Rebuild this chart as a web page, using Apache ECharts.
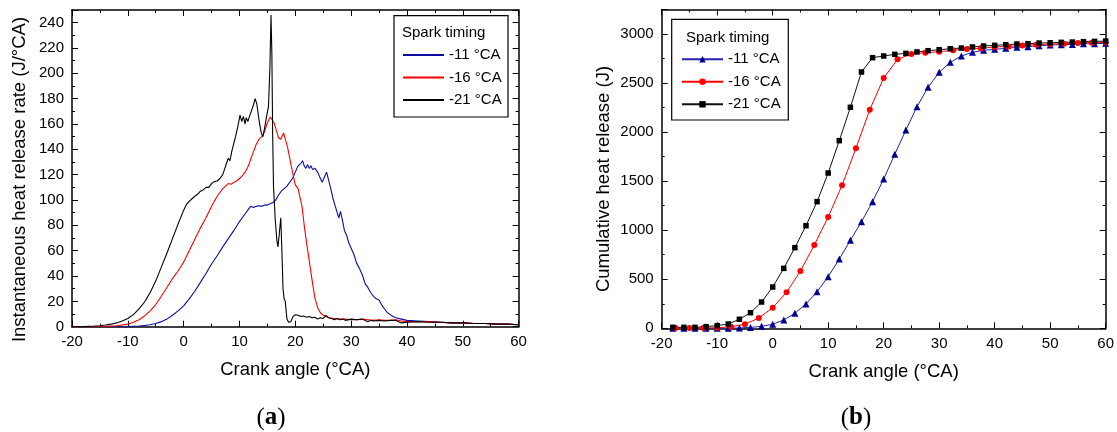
<!DOCTYPE html>
<html><head><meta charset="utf-8">
<script src="https://cdn.jsdelivr.net/npm/echarts@6/dist/echarts.min.js"></script>
<style>html,body{margin:0;padding:0;background:#fff}#c{width:1117px;height:432px}</style>
</head><body><div id="c"></div>
<script>
// ---------- data ----------
const seriesNames = ['-11 °CA', '-16 °CA', '-21 °CA'];
const legendTitle = 'Spark timing';
const xTitle = 'Crank angle (°CA)';
const yTitleA = 'Instantaneous heat release rate (J/°CA)';
const yTitleB = 'Cumulative heat release (J)';

// (a) instantaneous heat release rate, [crank angle, J/°CA]
const hrr11 = [[-20,0],[-12,0],[-10,0.2],[-8,0.5],[-7,1],[-6,1.5],[-5,2.5],[-4,4],[-3,6],[-2,9],[-1,12.5],[0,16.5],[1,22],[2,28],[3,35],[4,42],[5,49.5],[6,56],[7,63],[8,69.5],[9,76],[10,83],[10.5,86],[11,89],[11.5,92],[12,95],[12.5,94],[13,95],[13.5,95.5],[14,95],[14.5,96],[15,96],[15.5,97],[16,98],[16.5,100],[17,104],[17.5,107],[18,109],[18.5,111],[19,114],[19.5,117],[20,122],[20.5,127],[21,129],[21.3,131],[21.6,127],[21.9,125],[22.2,128],[22.5,125],[22.8,127],[23.1,124],[23.5,125],[24,122],[24.4,118],[24.8,114],[25.2,118],[25.6,122],[25.9,121],[26.3,110],[26.7,102],[27.1,96],[27.5,90],[27.8,86],[28.1,91],[28.4,85],[28.8,76],[29.2,72],[29.6,66],[30,62],[30.5,57],[31,50],[31.5,46],[32,41],[32.5,34],[33,31],[33.5,27],[34,24],[34.5,22],[35,21],[35.5,17],[36,14],[36.5,11],[37,9.5],[37.5,8],[38,7],[39,6],[40,5],[42,4.5],[44,4],[46,3.5],[48,3],[50,3],[52,2.5],[54,2.5],[56,2],[58,2],[60,1.5]];
const hrr16 = [[-20,0],[-16,0.1],[-14,0.3],[-12,0.8],[-10,2],[-9,3.5],[-8,5.5],[-7,8.5],[-6,12.5],[-5,17.5],[-4,24],[-3,31],[-2,38],[-1,44],[0,51],[1,60],[2,69],[3,78],[4,86],[5,95],[6,103],[7,109],[7.5,111],[8,113],[8.5,112.5],[9,114],[9.5,115],[10,117],[10.5,119],[11,122],[11.5,126],[12,132],[12.5,138],[13,144],[13.5,148],[14,150],[14.5,154],[15,161],[15.5,165.5],[15.8,165],[16.2,161],[16.6,155],[17,149],[17.4,148],[17.7,151],[17.9,153],[18.2,148],[18.6,142],[19,133],[19.5,122],[20,112],[20.5,109],[20.8,108],[21.2,95],[21.6,80],[22,67],[22.5,52],[23,37],[23.5,23],[24,15],[24.5,11],[25,9],[26,7],[27,6.5],[28,6],[29,6],[30,5.5],[31,5.5],[32,6],[33,5.5],[34,5],[35,5.5],[36,5],[37,5],[38,5.5],[39,4.5],[40,4],[42,4],[44,4],[46,3.5],[48,3],[50,3],[52,2.5],[54,2.5],[56,2],[58,2],[60,1.5]];
const hrr21 = [[-20,0],[-18,0.2],[-16,0.5],[-15,0.8],[-14,1.3],[-13,2],[-12,3],[-11,4.5],[-10,6.5],[-9,9.5],[-8,14],[-7,19.5],[-6,27],[-5,36],[-4,47],[-3,58],[-2,69.5],[-1,81],[0,92],[0.5,96.5],[1,99],[1.5,101],[2,103],[2.5,104.5],[3,107],[3.5,108],[4,110],[4.5,110],[5,113],[5.5,114.5],[6,115],[6.5,117],[7,120],[7.3,124],[7.6,128],[8,133],[8.3,131],[8.6,138],[9,145],[9.3,150],[9.7,158],[10.1,167],[10.4,162],[10.7,166],[11,160],[11.2,165],[11.5,162],[11.8,166],[12.1,170],[12.5,175],[12.8,180],[13.1,176],[13.5,163],[13.9,153],[14.2,150],[14.5,157],[14.9,167],[15.2,174],[15.45,205],[15.65,246],[15.8,216],[15.95,150],[16.1,110],[16.4,85],[16.7,68],[16.9,63],[17.1,72],[17.4,86],[17.6,60],[17.8,30],[18,22],[18.2,20],[18.5,6],[18.8,3.5],[19.2,4],[19.6,8],[20,9.5],[20.5,9],[21,8],[21.5,8.5],[22,7.5],[22.5,8],[23,7],[23.5,7.5],[24,6],[24.5,7],[25,6.5],[25.5,9],[26,7],[26.5,6.5],[27,5.5],[27.5,6.5],[28,5.5],[28.5,6],[29,5],[30,6],[31,5.5],[32,6],[33,4],[33.5,5],[34,4.5],[35,5],[36,4.5],[37,5],[38,5],[38.5,4],[39,3],[40,3.5],[42,4],[44,3.5],[46,3.5],[48,3],[50,3],[52,2.5],[54,2.5],[56,2],[58,2],[60,1.5]];

// (b) cumulative heat release
const anglesEven = [-18,-16,-14,-12,-10,-8,-6,-4,-2,0,2,4,6,8,10,12,14,16,18,20,22,24,26,28,30,32,34,36,38,40,42,44,46,48,50,52,54,56,58,60];
const anglesQuarter = [-17.5,-15,-12.5,-10,-7.5,-5,-2.5,0,2.5,5,7.5,10,12.5,15,17.5,20,22.5,25,27.5,30,32.5,35,37.5,40,42.5,45,47.5,50,52.5,55,57.5,60];
const chr11 = [0,0,0,0,0,1,3,9,20,41,85,153,248,373,526,706,897,1087,1291,1522,1774,2021,2259,2457,2610,2711,2776,2813,2834,2844,2854,2864,2871,2881,2888,2891,2894,2901,2901,2905];
const chr16 = [2,2,3,5,16,41,105,210,367,584,849,1135,1458,1835,2229,2552,2742,2796,2809,2820,2834,2847,2854,2868,2874,2884,2891,2898,2901,2908,2911,2915];
const chr21 = [10,10,10,17,27,44,92,159,268,421,611,822,1046,1291,1583,1913,2253,2613,2759,2776,2793,2803,2817,2830,2840,2850,2857,2868,2878,2885,2891,2898,2901,2908,2911,2915,2918,2922,2925,2928];

// ---------- styling ----------
const FONT = "'Liberation Sans', Arial, sans-serif";
const SERIF = "'Liberation Serif', 'DejaVu Serif', serif";
const colBlue = '#0c0ca0', colRed = '#ff0000', colBlack = '#000000';
const suffixB = ' (b)';

function zip(xs, ys) { return xs.map((x, i) => [x, ys[i]]); }

function axisCommon(extra) {
  return Object.assign({
    type: 'value',
    axisLine: { show: true, onZero: false, lineStyle: { color: '#000', width: 1.5 } },
    axisTick: { show: true, inside: true, length: 6, lineStyle: { color: '#000', width: 1 } },
    minorTick: { show: true, splitNumber: 2, length: 3, lineStyle: { color: '#000', width: 1 } },
    splitLine: { show: false },
    minorSplitLine: { show: false },
    axisLabel: { show: true, fontFamily: FONT, fontSize: 15, color: '#000', margin: 8, showMaxLabel: true,
      formatter: v => String(v) },
    nameTextStyle: { fontFamily: FONT, fontSize: 18.5, color: '#000' }
  }, extra);
}
const labelNoMax = { fontFamily: FONT, fontSize: 15, color: '#000', margin: 8, showMaxLabel: false, formatter: v => String(v) };

const xAxes = [
  axisCommon({ gridIndex: 0, position: 'bottom', min: -20, max: 60, interval: 10,
    name: xTitle, nameLocation: 'middle', nameGap: 34 }),
  axisCommon({ gridIndex: 0, position: 'top', min: -20, max: 60, interval: 10, axisLabel: { show: false } }),
  axisCommon({ gridIndex: 1, position: 'bottom', min: -20, max: 60, interval: 10,
    name: xTitle, nameLocation: 'middle', nameGap: 34 }),
  axisCommon({ gridIndex: 1, position: 'top', min: -20, max: 60, interval: 10, axisLabel: { show: false } })
];
const yAxes = [
  axisCommon({ gridIndex: 0, position: 'left', min: 0, max: 250, interval: 20, axisLabel: labelNoMax }),
  axisCommon({ gridIndex: 0, position: 'right', min: 0, max: 250, interval: 20, axisLabel: { show: false } }),
  axisCommon({ gridIndex: 1, position: 'left', min: 0, max: 3250, interval: 500, axisLabel: labelNoMax }),
  axisCommon({ gridIndex: 1, position: 'right', min: 0, max: 3250, interval: 500, axisLabel: { show: false } })
];

function lineA(name, data, color) {
  return { type: 'line', name, data, xAxisIndex: 0, yAxisIndex: 0, symbol: 'none',
    lineStyle: { color, width: 1.1 }, itemStyle: { color }, animation: false, z: 3 };
}
function lineB(name, data, color, markerColor, symbol, size) {
  return { type: 'line', name: name + suffixB, data, xAxisIndex: 2, yAxisIndex: 2, symbol, symbolSize: size,
    showAllSymbol: true, lineStyle: { color, width: 1 }, itemStyle: { color: markerColor },
    animation: false, z: 3 };
}

const legendCommon = {
  orient: 'vertical', padding: 0, itemWidth: 41, itemGap: 7.5, selectedMode: false,
  textStyle: { fontFamily: FONT, fontSize: 15, color: '#000', lineHeight: 15 }
};

const option = {
  backgroundColor: '#fff',
  animation: false,
  grid: [
    { left: 72, top: 10, width: 446.6, height: 316.7, containLabel: false },
    { left: 661.7, top: 9.5, width: 444.3, height: 318.8, containLabel: false }
  ],
  xAxis: xAxes,
  yAxis: yAxes,
  legend: [
    Object.assign({}, legendCommon, { data: seriesNames, left: 402, top: 47.5, itemHeight: 14,
      itemStyle: { opacity: 0 } }),
    Object.assign({}, legendCommon, { data: seriesNames.map(n => n + suffixB), left: 681, top: 51.8, itemHeight: 8,
      formatter: n => n.replace(suffixB, '') })
  ],
  graphic: [
    { type: 'rect', z: 1, shape: { x: 394, y: 15.7, width: 114, height: 101.3 },
      style: { fill: '#fff', stroke: '#000', lineWidth: 1.2 } },
    { type: 'text', z: 5, style: { text: legendTitle, x: 402, y: 33, verticalAlign: 'middle',
      font: '15px ' + FONT, fill: '#000' } },
    { type: 'rect', z: 1, shape: { x: 671.7, y: 19.3, width: 116.6, height: 100.7 },
      style: { fill: '#fff', stroke: '#000', lineWidth: 1.2 } },
    { type: 'text', z: 5, style: { text: legendTitle, x: 686, y: 38, verticalAlign: 'middle',
      font: '15px ' + FONT, fill: '#000' } },
    { type: 'text', z: 5, x: 19.5, y: 179.5, rotation: Math.PI / 2,
      style: { text: yTitleA, align: 'center', verticalAlign: 'middle', font: '18.5px ' + FONT, fill: '#000' } },
    { type: 'text', z: 5, x: 604, y: 179, rotation: Math.PI / 2,
      style: { text: yTitleB, align: 'center', verticalAlign: 'middle', font: '18.5px ' + FONT, fill: '#000' } },
    { type: 'text', z: 5, style: { text: '{p|(}{b|a}{p|)}', x: 271, y: 418, align: 'center', verticalAlign: 'middle',
      rich: { p: { fontFamily: SERIF, fontSize: 25, fill: '#000' }, b: { fontFamily: SERIF, fontSize: 25, fontWeight: 'bold', fill: '#000' } } } },
    { type: 'text', z: 5, style: { text: '{p|(}{b|b}{p|)}', x: 856, y: 418, align: 'center', verticalAlign: 'middle',
      rich: { p: { fontFamily: SERIF, fontSize: 25, fill: '#000' }, b: { fontFamily: SERIF, fontSize: 25, fontWeight: 'bold', fill: '#000' } } } }
  ],
  series: [
    lineA(seriesNames[0], hrr11, colBlue),
    lineA(seriesNames[1], hrr16, colRed),
    lineA(seriesNames[2], hrr21, colBlack),
    lineB(seriesNames[0], zip(anglesEven, chr11), '#2222b0', '#00008c', 'triangle', 7),
    lineB(seriesNames[1], zip(anglesQuarter, chr16), colRed, colRed, 'circle', 6),
    lineB(seriesNames[2], zip(anglesEven, chr21), '#111', '#000', 'rect', 5.5)
  ]
};

const chart = echarts.init(document.getElementById('c'), null, { renderer: 'canvas' });
chart.setOption(option);
</script>
</body></html>
